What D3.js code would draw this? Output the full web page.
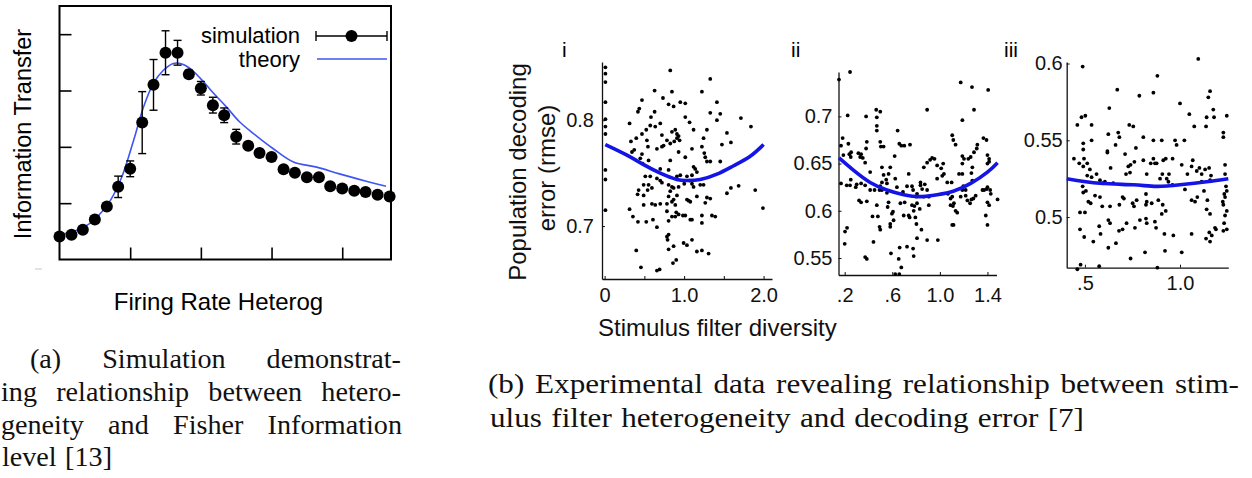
<!DOCTYPE html>
<html>
<head>
<meta charset="utf-8">
<script src="https://cdn.jsdelivr.net/npm/d3@7"></script>
<style>
  body { margin: 0; background: #fff; }
  svg { display: block; }
</style>
</head>
<body>
<svg id="fig" width="1252" height="478"></svg>
<script>
// ---------- (a) simulation vs theory ----------
const simX = [0.00, 0.17, 0.33, 0.50, 0.67, 0.83, 1.00, 1.17, 1.33, 1.50, 1.67, 1.83, 2.00, 2.17, 2.33,
              2.50, 2.67, 2.83, 3.00, 3.17, 3.33, 3.50, 3.67, 3.83, 4.00, 4.17, 4.33, 4.50, 4.67];
const simY = [0.41, 0.44, 0.53, 0.71, 0.94, 1.29, 1.61, 2.43, 3.10, 3.67, 3.67, 3.29, 3.04, 2.74, 2.56,
              2.18, 2.02, 1.89, 1.82, 1.60, 1.54, 1.46, 1.46, 1.30, 1.26, 1.22, 1.20, 1.15, 1.12];
const simErr = [0, 0, 0, 0.05, 0.06, 0.19, 0.14, 0.55, 0.45, 0.39, 0.22, 0.07, 0.12, 0.14, 0.13,
                0.13, 0.06, 0.05, 0.04, 0.03, 0.03, 0.03, 0.03, 0.03, 0.03, 0.03, 0.03, 0.03, 0.03];
const theoryX = [0.02, 0.34, 0.53, 0.72, 0.88, 1.05, 1.19, 1.33, 1.47, 1.61, 1.71, 1.85, 1.99, 2.18,
                 2.36, 2.55, 2.74, 3.02, 3.31, 3.64, 3.96, 4.34, 4.62];
const theoryY = [0.44, 0.57, 0.75, 1.05, 1.46, 2.12, 2.71, 3.13, 3.36, 3.48, 3.48, 3.39, 3.22, 2.95,
                 2.71, 2.44, 2.24, 1.97, 1.73, 1.64, 1.52, 1.39, 1.30];
const aTicksX = [1, 2, 3, 4];
const aTicksY = [1, 2, 3, 4];
const legendLabels = ["simulation", "theory"];

// ---------- (b) decoding error vs stimulus filter diversity ----------
const panelLabels = ["i", "ii", "iii"];
const pointsI = [
[0.01,0.850],[0.01,0.844],[0.01,0.836],[0.01,0.817],[0.01,0.801],[0.01,0.794],[0.01,0.787],[0.01,0.753],[0.01,0.744],[0.01,0.715],
[0.826,0.847],[1.329,0.839],[0.629,0.828],[0.847,0.827],[1.224,0.827],[0.734,0.821],[0.470,0.819],[0.952,0.817],[1.015,0.816],[1.413,0.817],
[0.805,0.815],[0.868,0.813],[0.436,0.811],[0.419,0.808],[0.629,0.808],[0.314,0.797],[0.583,0.803],[0.574,0.795],[0.637,0.794],[0.700,0.797],
[1.015,0.803],[1.329,0.807],[1.455,0.806],[1.413,0.800],[1.069,0.798],[1.119,0.791],[1.539,0.788],[1.715,0.802],[1.841,0.794],[1.287,0.791],
[0.524,0.791],[0.470,0.787],[0.331,0.780],[0.398,0.783],[0.532,0.781],[0.721,0.786],[0.847,0.789],[0.889,0.791],[0.910,0.787],[0.931,0.785],
[0.943,0.781],[0.910,0.783],[0.876,0.780],[0.826,0.778],[0.784,0.781],[0.742,0.776],[0.721,0.775],[0.658,0.773],[0.545,0.775],[0.373,0.772],
[0.344,0.770],[0.470,0.768],[0.449,0.764],[0.478,0.759],[0.553,0.762],[0.826,0.762],[0.931,0.770],[1.015,0.765],[1.099,0.773],[1.224,0.775],
[1.245,0.783],[1.476,0.777],[1.589,0.779],[1.254,0.769],[1.266,0.765],[1.287,0.761],[1.329,0.761],[1.455,0.761],[1.119,0.756],[1.140,0.754],
[1.161,0.751],[1.099,0.748],[1.036,0.747],[0.952,0.748],[0.910,0.747],[0.805,0.753],[0.700,0.754],[0.574,0.747],[0.512,0.747],[0.658,0.745],
[0.700,0.743],[0.721,0.741],[0.805,0.739],[0.847,0.737],[0.868,0.736],[0.931,0.737],[1.002,0.740],[1.069,0.743],[1.099,0.740],[1.203,0.739],
[1.245,0.739],[1.119,0.737],[0.491,0.739],[0.553,0.739],[0.595,0.736],[0.541,0.734],[0.491,0.729],[0.428,0.734],[0.415,0.730],[0.826,0.733],
[0.805,0.728],[0.910,0.729],[0.868,0.725],[0.847,0.723],[0.784,0.721],[0.889,0.720],[1.057,0.724],[1.078,0.723],[0.700,0.721],[0.637,0.720],
[0.595,0.721],[0.491,0.720],[0.314,0.716],[0.356,0.709],[0.524,0.704],[0.419,0.704],[0.608,0.706],[0.658,0.699],[0.784,0.714],[0.847,0.709],
[0.805,0.705],[0.901,0.713],[0.889,0.709],[0.931,0.711],[0.985,0.710],[1.015,0.710],[1.078,0.706],[1.099,0.706],[1.036,0.725],[1.161,0.728],
[1.287,0.727],[1.266,0.722],[1.329,0.726],[1.350,0.710],[1.392,0.709],[1.539,0.731],[1.589,0.736],[1.686,0.738],[1.895,0.734],[1.992,0.717],
[1.224,0.710],[1.224,0.703],[0.994,0.684],[1.036,0.682],[1.099,0.687],[1.161,0.676],[1.224,0.677],[1.308,0.674],[0.792,0.687],[0.784,0.690],
[0.805,0.678],[0.868,0.681],[0.398,0.677],[0.457,0.661],[0.658,0.658],[0.692,0.659],[0.860,0.665],[0.901,0.668],[0.805,0.692]
];
const pointsII = [
[0.152,0.739],[0.245,0.747],[0.465,0.707],[0.499,0.705],[0.225,0.701],[0.380,0.700],[0.183,0.677],[0.169,0.669],[0.231,0.671],[0.254,0.662],
[0.239,0.660],[0.189,0.659],[0.251,0.657],[0.315,0.661],[0.338,0.660],[0.330,0.657],[0.352,0.656],[0.372,0.651],[0.386,0.673],[0.380,0.666],
[0.470,0.699],[0.470,0.690],[0.470,0.685],[0.499,0.673],[0.504,0.668],[0.527,0.668],[0.645,0.685],[0.620,0.658],[0.583,0.646],[0.513,0.646],
[0.527,0.638],[0.569,0.639],[0.549,0.633],[0.625,0.634],[0.659,0.671],[0.676,0.669],[0.701,0.669],[0.749,0.670],[0.738,0.639],[0.414,0.641],
[0.251,0.633],[0.245,0.627],[0.301,0.628],[0.293,0.625],[0.338,0.629],[0.372,0.627],[0.169,0.629],[0.217,0.627],[0.321,0.611],[0.338,0.609],
[0.386,0.610],[0.470,0.606],[0.513,0.622],[0.555,0.619],[0.569,0.609],[0.561,0.604],[0.606,0.599],[0.597,0.597],[0.611,0.590],[0.668,0.608],
[0.696,0.595],[0.738,0.595],[0.780,0.600],[0.794,0.593],[0.808,0.608],[0.831,0.602],[0.837,0.627],[0.837,0.630],[0.873,0.628],[0.893,0.622],
[0.851,0.623],[0.907,0.606],[0.907,0.615],[0.865,0.615],[0.865,0.646],[0.893,0.651],[0.918,0.654],[0.935,0.656],[0.955,0.655],[0.977,0.648],
[0.977,0.634],[1.011,0.645],[1.020,0.637],[1.034,0.639],[1.028,0.650],[1.062,0.630],[1.068,0.618],[1.099,0.630],[1.090,0.606],[1.110,0.605],
[1.104,0.585],[1.115,0.585],[1.132,0.600],[1.146,0.598],[1.090,0.613],[1.104,0.615],[1.118,0.608],[1.175,0.615],[1.189,0.622],[1.197,0.626],
[1.217,0.622],[1.217,0.616],[1.231,0.611],[1.254,0.608],[1.161,0.639],[1.189,0.639],[1.189,0.650],[1.203,0.655],[1.189,0.658],[1.239,0.655],
[1.259,0.657],[1.273,0.646],[1.265,0.640],[1.273,0.632],[1.315,0.670],[1.310,0.666],[1.287,0.662],[1.366,0.677],[1.392,0.675],[1.400,0.659],
[1.414,0.655],[1.414,0.652],[1.400,0.650],[1.358,0.622],[1.372,0.622],[1.394,0.623],[1.400,0.625],[1.423,0.622],[1.428,0.618],[1.400,0.609],
[1.414,0.606],[1.386,0.595],[1.400,0.585],[1.485,0.612],[1.301,0.616],[1.282,0.613],[1.265,0.612],[1.104,0.680],[1.113,0.675],[1.132,0.670],
[1.189,0.696],[1.175,0.736],[1.270,0.731],[1.287,0.707],[1.406,0.728],[0.893,0.707],[0.704,0.609],[0.639,0.625],[0.690,0.620],[0.766,0.626],
[0.775,0.622],[0.808,0.618],[0.724,0.626],[0.766,0.606],[0.803,0.615],[0.786,0.605],[0.746,0.593],[0.803,0.586],[0.845,0.580],[0.893,0.569],
[0.808,0.571],[0.983,0.569],[0.724,0.562],[0.662,0.561],[0.654,0.549],[0.625,0.533],[0.659,0.533],[0.676,0.540],[0.775,0.560],[0.780,0.552],
[0.589,0.555],[0.372,0.551],[0.386,0.549],[0.442,0.567],[0.493,0.583],[0.499,0.580],[0.583,0.583],[0.479,0.594],[0.434,0.594],[0.203,0.578],
[0.220,0.582],[0.200,0.565],[0.414,0.622],[0.451,0.622],[0.493,0.622],[0.499,0.626],[0.513,0.630],[0.555,0.629],[0.583,0.586]
];
const pointsIII = [
[0.488,0.598],[1.096,0.603],[0.881,0.592],[0.860,0.581],[0.670,0.583],[0.786,0.579],[1.000,0.574],[1.158,0.582],[1.149,0.578],[0.628,0.571],
[0.502,0.566],[0.482,0.565],[0.460,0.560],[0.535,0.560],[0.623,0.554],[0.675,0.555],[0.681,0.552],[0.733,0.560],[0.754,0.559],[0.807,0.552],
[0.860,0.550],[0.904,0.550],[0.974,0.550],[0.982,0.547],[1.023,0.550],[1.075,0.559],[1.140,0.565],[1.175,0.570],[1.179,0.565],[1.246,0.566],
[1.049,0.567],[1.137,0.559],[1.228,0.555],[1.228,0.552],[0.491,0.548],[0.491,0.544],[0.535,0.550],[0.661,0.547],[0.618,0.543],[0.618,0.542],
[0.728,0.533],[0.740,0.534],[0.711,0.541],[0.768,0.545],[0.716,0.528],[0.737,0.529],[0.760,0.536],[0.807,0.537],[0.825,0.528],[0.860,0.538],
[0.868,0.535],[0.846,0.535],[0.912,0.537],[0.925,0.538],[0.961,0.538],[0.877,0.535],[0.907,0.528],[0.895,0.525],[0.942,0.528],[0.960,0.521],
[0.939,0.523],[0.930,0.525],[1.009,0.534],[1.039,0.528],[1.061,0.533],[1.067,0.537],[1.088,0.530],[1.102,0.532],[1.114,0.528],[1.132,0.531],
[1.153,0.532],[1.163,0.527],[1.158,0.524],[1.026,0.518],[1.061,0.511],[1.079,0.510],[1.091,0.513],[1.126,0.517],[1.114,0.523],[1.144,0.511],
[1.237,0.534],[1.237,0.528],[1.242,0.520],[1.246,0.517],[1.233,0.515],[1.237,0.513],[1.225,0.510],[1.228,0.508],[1.246,0.504],[1.237,0.501],
[1.232,0.496],[1.246,0.492],[1.228,0.491],[1.140,0.505],[1.158,0.502],[1.189,0.492],[1.184,0.493],[1.154,0.490],[1.167,0.488],[1.137,0.486],
[1.158,0.484],[1.061,0.489],[1.009,0.477],[0.965,0.488],[0.918,0.489],[0.921,0.478],[0.874,0.493],[0.825,0.496],[0.821,0.499],[0.868,0.497],
[0.904,0.502],[0.925,0.504],[0.909,0.508],[0.886,0.511],[0.851,0.509],[0.821,0.508],[0.825,0.510],[0.821,0.515],[0.772,0.511],[0.751,0.509],
[0.758,0.507],[0.789,0.498],[0.763,0.493],[0.719,0.496],[0.698,0.492],[0.679,0.491],[0.623,0.480],[0.663,0.483],[0.544,0.484],[0.496,0.487],
[0.477,0.469],[0.460,0.466],[0.575,0.468],[0.740,0.473],[0.816,0.477],[0.881,0.467],[0.582,0.489],[0.575,0.494],[0.632,0.496],[0.623,0.498],
[0.591,0.507],[0.579,0.513],[0.553,0.514],[0.530,0.509],[0.488,0.520],[0.491,0.516],[0.505,0.517],[0.518,0.510],[0.474,0.503],[0.500,0.503],
[0.474,0.492],[0.442,0.538],[0.470,0.535],[0.491,0.533],[0.526,0.531],[0.512,0.527],[0.535,0.526],[0.561,0.528],[0.579,0.524],[0.593,0.522],
[0.605,0.523],[0.649,0.522],[0.635,0.532],[0.698,0.513],[0.705,0.512],[0.632,0.507],[0.681,0.508],[0.512,0.535],[0.495,0.538]
];
// quadratic fit curves, sampled
const fitIX = [0.008, 0.281, 0.491, 0.700, 0.910, 1.036, 1.203, 1.413, 1.623, 1.832, 2.000];
const fitIY = [0.777, 0.767, 0.758, 0.750, 0.744, 0.743, 0.744, 0.749, 0.757, 0.766, 0.777];
const fitIIX = [0.152, 0.273, 0.414, 0.555, 0.696, 0.837, 0.977, 1.118, 1.259, 1.400, 1.485];
const fitIIY = [0.656, 0.643, 0.630, 0.622, 0.617, 0.615, 0.617, 0.621, 0.629, 0.641, 0.651];
const fitIIIX = [0.404, 0.579, 0.754, 0.877, 1.000, 1.140, 1.254];
const fitIIIY = [0.525, 0.522, 0.521, 0.520, 0.521, 0.523, 0.525];

const ticksIX = [0, 0.5, 1.0, 1.5, 2.0];
const tickLabelsIX = ["0", "", "1.0", "", "2.0"];
const ticksIY = [0.7, 0.8];
const tickLabelsIY = ["0.7", "0.8"];
const ticksIIX = [0.2, 0.6, 1.0, 1.4];
const tickLabelsIIX = [".2", ".6", "1.0", "1.4"];
const ticksIIY = [0.55, 0.6, 0.65, 0.7];
const tickLabelsIIY = ["0.55", "0.6", "0.65", "0.7"];
const ticksIIIX = [0.5, 1.0];
const tickLabelsIIIX = [".5", "1.0"];
const ticksIIIY = [0.5, 0.55, 0.6];
const tickLabelsIIIY = ["0.5", "0.55", "0.6"];

const captionA = ["(a) Simulation demonstrat-", "ing relationship between hetero-",
                  "geneity and Fisher Information", "level [13]"];
const captionB = ["(b) Experimental data revealing relationship between stim-",
                  "ulus filter heterogeneity and decoding error [7]"];

const SANS = "'Liberation Sans', Arial, Helvetica, sans-serif";
const SERIF = "'Liberation Serif', 'Times New Roman', serif";
const svg = d3.select("#fig");

// ================= panel (a) =================
const ga = svg.append("g");
const xa = d3.scaleLinear().domain([0, 4.69]).range([59.5, 391]);
const ya = d3.scaleLinear().domain([0, 4.5]).range([259.5, 6]);

ga.append("g").attr("transform", `translate(0,${ya(0)})`)
  .call(d3.axisBottom(xa).tickValues(aTicksX).tickSize(-12).tickSizeOuter(0).tickFormat(""))
  .call(g => g.select(".domain").remove())
  .selectAll("line").attr("stroke", "#000").attr("stroke-width", 1.6);
ga.append("g").attr("transform", `translate(${xa(0)},0)`)
  .call(d3.axisLeft(ya).tickValues(aTicksY).tickSize(-12).tickSizeOuter(0).tickFormat(""))
  .call(g => g.select(".domain").remove())
  .selectAll("line").attr("stroke", "#000").attr("stroke-width", 1.6);

ga.append("rect")
  .attr("x", xa(0)).attr("y", ya(4.5))
  .attr("width", xa(4.69) - xa(0)).attr("height", ya(0) - ya(4.5))
  .attr("fill", "none").attr("stroke", "#000").attr("stroke-width", 2);

// theory curve
const theory = theoryX.map((x, i) => [x, theoryY[i]]);
ga.append("path").datum(theory)
  .attr("d", d3.line().x(d => xa(d[0])).y(d => ya(d[1])).curve(d3.curveCatmullRom.alpha(0.5)))
  .attr("fill", "none").attr("stroke", "#3f55f2").attr("stroke-width", 1.6);

// simulation error bars and points
const sim = simX.map((x, i) => ({ x, y: simY[i], e: simErr[i] }));
const eb = ga.append("g").attr("stroke", "#000").attr("stroke-width", 1.4);
sim.filter(d => d.e > 0).forEach(d => {
  const cx = xa(d.x), y0 = ya(d.y - d.e), y1 = ya(d.y + d.e);
  eb.append("line").attr("x1", cx).attr("x2", cx).attr("y1", y0).attr("y2", y1);
  eb.append("line").attr("x1", cx - 4).attr("x2", cx + 4).attr("y1", y0).attr("y2", y0);
  eb.append("line").attr("x1", cx - 4).attr("x2", cx + 4).attr("y1", y1).attr("y2", y1);
});
ga.append("g").selectAll("circle").data(sim).join("circle")
  .attr("cx", d => xa(d.x)).attr("cy", d => ya(d.y)).attr("r", 6).attr("fill", "#000");

// legend
const lg = ga.append("g").style("font-family", SANS).style("font-size", "22px");
lg.append("text").attr("x", 300).attr("y", 43).attr("text-anchor", "end").text(legendLabels[0]);
lg.append("text").attr("x", 300).attr("y", 67).attr("text-anchor", "end").text(legendLabels[1]);
lg.append("line").attr("x1", 316).attr("x2", 387).attr("y1", 36).attr("y2", 36).attr("stroke", "#000").attr("stroke-width", 1.4);
lg.append("line").attr("x1", 316).attr("x2", 316).attr("y1", 31).attr("y2", 41).attr("stroke", "#000").attr("stroke-width", 1.4);
lg.append("line").attr("x1", 387).attr("x2", 387).attr("y1", 31).attr("y2", 41).attr("stroke", "#000").attr("stroke-width", 1.4);
lg.append("circle").attr("cx", 351.5).attr("cy", 36).attr("r", 6).attr("fill", "#000");
lg.append("line").attr("x1", 317).attr("x2", 387).attr("y1", 59).attr("y2", 59).attr("stroke", "#3f55f2").attr("stroke-width", 1.6);

// axis titles
ga.append("text").attr("transform", "translate(30.5,134) rotate(-90)")
  .attr("text-anchor", "middle").style("font-family", SANS).style("font-size", "23.5px")
  .text("Information Transfer");
ga.append("text").attr("x", 218.5).attr("y", 310).attr("text-anchor", "middle")
  .style("font-family", SANS).style("font-size", "24px").text("Firing Rate Heterog");
ga.append("line").attr("x1", 35).attr("x2", 42).attr("y1", 269).attr("y2", 269)
  .attr("stroke", "#d0d0d0").attr("stroke-width", 1.2);

// ================= panel (b) =================
function drawPanel(cfg) {
  const g = svg.append("g");
  const x = d3.scaleLinear().domain(cfg.xDomain).range(cfg.xRange);
  const y = d3.scaleLinear().domain(cfg.yDomain).range(cfg.yRange);

  const ax = g.append("g").attr("transform", `translate(0,${cfg.yRange[0]})`)
    .call(d3.axisBottom(x).tickValues(cfg.xTicks).tickSize(-3).tickSizeOuter(0)
      .tickPadding(cfg.xPad).tickFormat((d, i) => cfg.xLabels[i]));
  const ay = g.append("g").attr("transform", `translate(${cfg.xRange[0]},0)`)
    .call(d3.axisLeft(y).tickValues(cfg.yTicks).tickSize(-3).tickSizeOuter(0)
      .tickPadding(cfg.yPad).tickFormat((d, i) => cfg.yLabels[i]));
  [ax, ay].forEach(a => {
    a.select(".domain").attr("stroke", "#111").attr("stroke-width", 1.3);
    a.selectAll(".tick line").attr("stroke", "#111").attr("stroke-width", 1);
    a.selectAll(".tick text").attr("fill", "#111")
      .style("font-family", SANS).style("font-size", "20px");
  });

  g.append("g").selectAll("circle").data(cfg.points).join("circle")
    .attr("cx", d => x(d[0])).attr("cy", d => y(d[1])).attr("r", 1.9).attr("fill", "#000");

  const fit = cfg.fitX.map((v, i) => [v, cfg.fitY[i]]);
  g.append("path").datum(fit)
    .attr("d", d3.line().x(d => x(d[0])).y(d => y(d[1])).curve(d3.curveNatural))
    .attr("fill", "none").attr("stroke", "#1414e6").attr("stroke-width", 3.6);

  g.append("text").attr("x", cfg.labelX).attr("y", 56.5)
    .style("font-family", SANS).style("font-size", "21px").text(cfg.label);
}

drawPanel({
  xDomain: [-0.033, 2.106], xRange: [602, 772], yDomain: [0.650, 0.855], yRange: [279, 62],
  xTicks: ticksIX, xLabels: tickLabelsIX, yTicks: ticksIY, yLabels: tickLabelsIY,
  xPad: 9, yPad: 8, points: pointsI, fitX: fitIX, fitY: fitIY, label: panelLabels[0], labelX: 562
});
drawPanel({
  xDomain: [0.148, 1.476], xRange: [838.5, 996.5], yDomain: [0.532, 0.747], yRange: [275, 72],
  xTicks: ticksIIX, xLabels: tickLabelsIIX, yTicks: ticksIIY, yLabels: tickLabelsIIY,
  xPad: 13, yPad: 6, points: pointsII, fitX: fitIIX, fitY: fitIIY, label: panelLabels[1], labelX: 791
});
drawPanel({
  xDomain: [0.404, 1.254], xRange: [1066.7, 1228.3], yDomain: [0.467, 0.601], yRange: [267.7, 62],
  xTicks: ticksIIIX, xLabels: tickLabelsIIIX, yTicks: ticksIIIY, yLabels: tickLabelsIIIY,
  xPad: 8, yPad: 4, points: pointsIII, fitX: fitIIIX, fitY: fitIIIY, label: panelLabels[2], labelX: 1004
});

// shared titles for (b)
const tb = svg.append("g").style("font-family", SANS).style("font-size", "24px").attr("fill", "#111");
tb.append("text").attr("transform", "translate(526,172) rotate(-90)").attr("text-anchor", "middle")
  .text("Population decoding");
tb.append("text").attr("transform", "translate(555,168) rotate(-90)").attr("text-anchor", "middle")
  .text("error (rmse)");
tb.append("text").attr("x", 598).attr("y", 336).text("Stimulus filter diversity");

// ================= captions =================
// Each word is its own text element so that lines can be justified to a column width;
// kx widens the serif glyphs to the proportions of the typeset caption.
const CAP_SIZE = 27;
function layoutWords(parent, line, y) {
  return line.split(" ").map(w => {
    const t = parent.append("text").attr("y", y).text(w);
    return { t, nat: t.node().getComputedTextLength() };
  });
}
function placeWords(items, x0, kx, gap) {
  let cx = x0;
  items.forEach(d => {
    const w = d.nat * kx;
    d.t.attr("x", cx).attr("textLength", w).attr("lengthAdjust", "spacingAndGlyphs");
    cx += w + gap;
  });
}
// last line of a paragraph: natural spacing, scaled to a target width; returns the glyph factor
function lastLine(parent, line, x0, y, targetWidth) {
  const items = layoutWords(parent, line, y);
  const sumNat = d3.sum(items, d => d.nat);
  const spaceNat = CAP_SIZE * 0.3;
  const kx = targetWidth / (sumNat + spaceNat * (items.length - 1));
  placeWords(items, x0, kx, spaceNat * kx);
  return kx;
}
function justifiedLine(parent, line, x0, x1, y, kx) {
  const items = layoutWords(parent, line, y);
  const total = d3.sum(items, d => d.nat * kx);
  placeWords(items, x0, kx, (x1 - x0 - total) / (items.length - 1));
}

const capA = svg.append("g").style("font-family", SERIF).style("font-size", CAP_SIZE + "px").attr("fill", "#111");
const kA = lastLine(capA, captionA[3], 2, 466, 110);
justifiedLine(capA, captionA[0], 30, 401, 368, kA);
justifiedLine(capA, captionA[1], 1, 401, 401, kA);
justifiedLine(capA, captionA[2], 1, 402, 434, kA);

const capB = svg.append("g").style("font-family", SERIF).style("font-size", CAP_SIZE + "px").attr("fill", "#111");
const kB = lastLine(capB, captionB[1], 490, 427, 594);
justifiedLine(capB, captionB[0], 488, 1239, 393, kB);
</script>
</body>
</html>
